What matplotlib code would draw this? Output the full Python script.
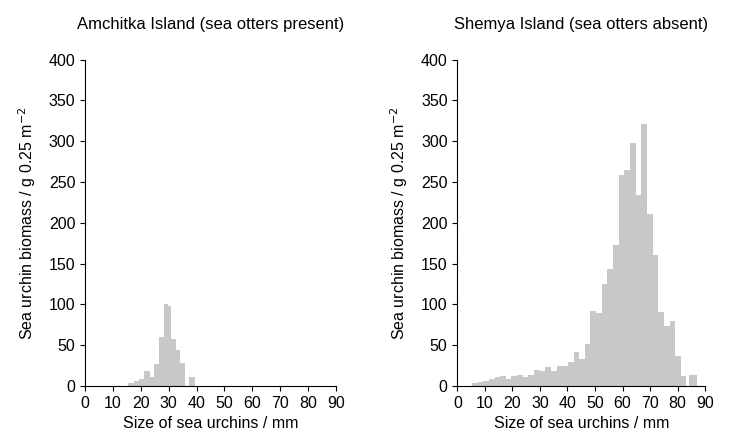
import numpy as np
import matplotlib
matplotlib.use("Agg")
from matplotlib import pyplot as plt

plt.rc("font", family="Liberation Sans", size=11)

# Amchitka: bin edges (mm) and biomass
amchitka_edges = [15.3, 17.7, 19.5, 21.3, 23.3, 24.8, 26.5, 28.4, 29.6, 30.8,
                  32.5, 34.0, 35.8]
amchitka_vals = [3, 6, 8, 18, 11, 27, 60, 100, 98, 58, 44, 28]
amchitka_extra = (37.2, 39.6, 11)

# Shemya: 2 mm bins starting at 5.3
shemya_start = 5.3
shemya_vals = [3, 4.5, 6, 8, 11, 12, 9, 12, 13.5, 11, 13.5, 19, 18, 23, 18, 24,
               24, 29.5, 42, 33, 51, 92, 89, 125, 143, 173, 259, 265, 298, 234,
               321, 211, 161, 91, 74, 80, 37, 11.5]
shemya_extra = (84.2, 87.0, 13.5)

color = "#c8c8c8"
ylabel = "Sea urchin biomass / g 0.25 m$^{-2}$"
xlabel = "Size of sea urchins / mm"

fig = plt.figure(figsize=(7.4, 4.42), dpi=100)
ax1 = fig.add_axes([0.115, 0.127, 0.339, 0.738])
ax2 = fig.add_axes([0.618, 0.127, 0.335, 0.738])

e = np.array(amchitka_edges)
ax1.bar(e[:-1], amchitka_vals, width=np.diff(e), align="edge", color=color)
ax1.bar(amchitka_extra[0], amchitka_extra[2],
        width=amchitka_extra[1] - amchitka_extra[0], align="edge", color=color)

left = shemya_start + 2.05 * np.arange(len(shemya_vals))
ax2.bar(left, shemya_vals, width=2.05, align="edge", color=color)
ax2.bar(shemya_extra[0], shemya_extra[2],
        width=shemya_extra[1] - shemya_extra[0], align="edge", color=color)

for ax, title in [(ax1, "Amchitka Island (sea otters present)"),
                  (ax2, "Shemya Island (sea otters absent)")]:
    ax.set_xlim(0, 90)
    ax.set_ylim(0, 400)
    ax.set_xticks(range(0, 91, 10))
    ax.set_yticks(range(0, 401, 50))
    ax.tick_params(labelsize=11.5)
    ax.spines["top"].set_visible(False)
    ax.spines["right"].set_visible(False)
    ax.set_xlabel(xlabel, fontsize=11.5)
    ax.set_ylabel(ylabel, fontsize=11.5, labelpad=8)
    ax.set_title(title, fontsize=12, pad=22)

fig.savefig("out.png")
